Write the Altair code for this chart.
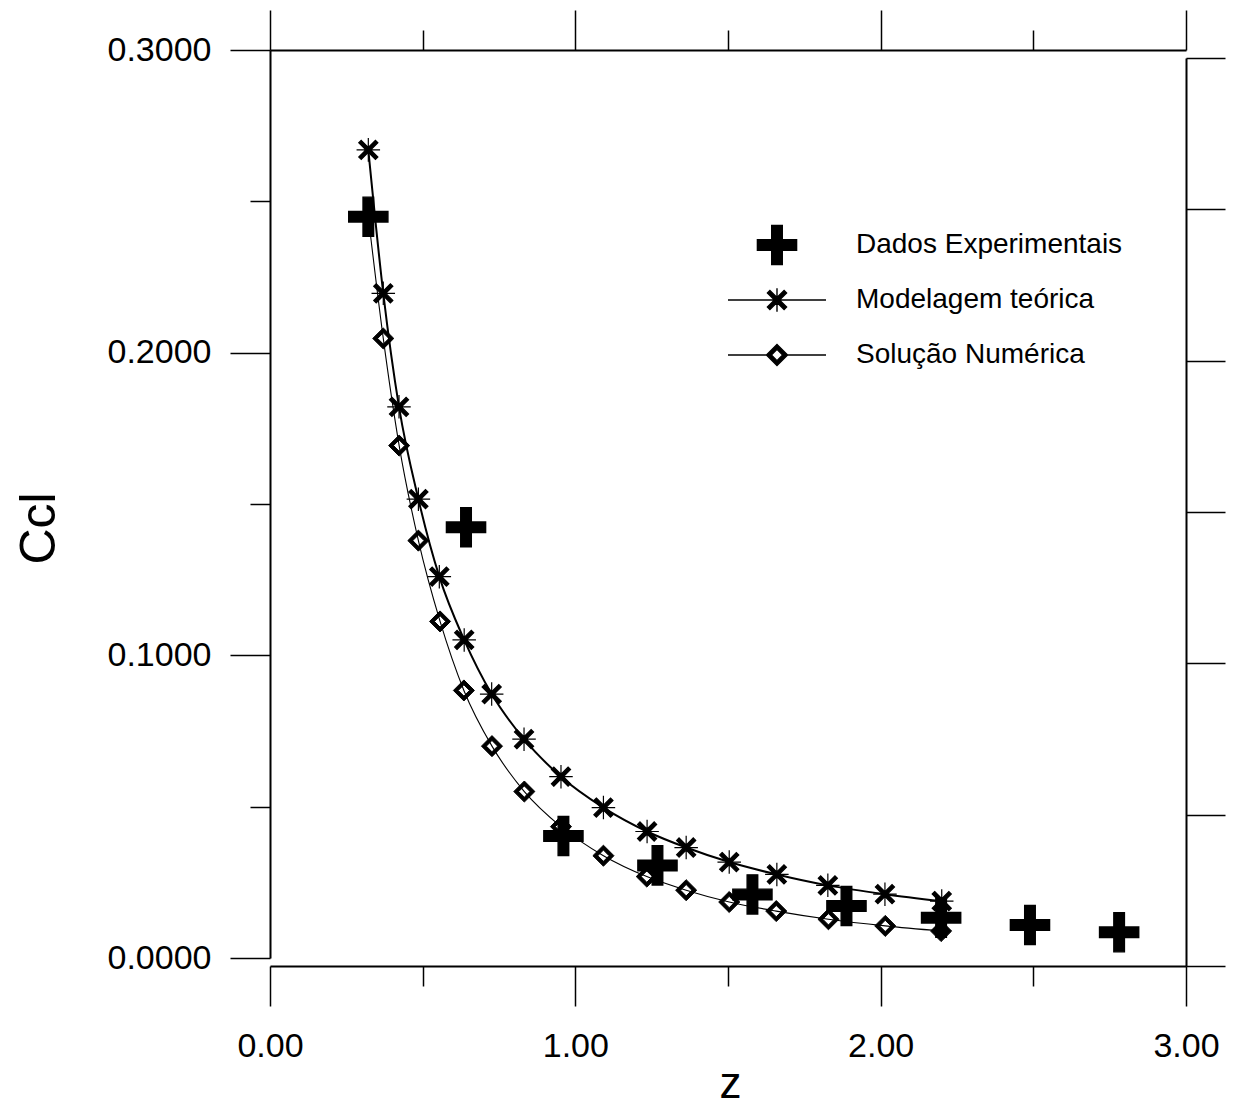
import altair as alt
import pandas as pd

# ---------------- data ----------------
series = ["Dados Experimentais", "Modelagem teórica", "Solução Numérica"]

z_exp = [0.322, 0.642, 0.961, 1.269, 1.580, 1.888, 2.198, 2.489, 2.781]
ccl_exp = [0.2449, 0.1423, 0.0403, 0.0306, 0.0210, 0.0172, 0.0133, 0.0109, 0.0085]

z_mod = [0.322, 0.371, 0.4225, 0.486, 0.5545, 0.636, 0.726, 0.832, 0.953,
         1.092, 1.235, 1.363, 1.504, 1.660, 1.827, 2.014, 2.200]
ccl_mod = [0.2670, 0.2196, 0.1821, 0.1516, 0.1260, 0.1051, 0.0872, 0.0723, 0.0599,
           0.0497, 0.0418, 0.0365, 0.0317, 0.0276, 0.0240, 0.0211, 0.0188]

z_num = [0.371, 0.423, 0.486, 0.557, 0.635, 0.727, 0.833, 0.953,
         1.092, 1.234, 1.363, 1.504, 1.658, 1.829, 2.015, 2.198]
ccl_num = [0.2047, 0.1693, 0.1379, 0.1112, 0.0884, 0.0700, 0.0550, 0.0434,
           0.0338, 0.0269, 0.0224, 0.0185, 0.0155, 0.0128, 0.0106, 0.0089]

x_major = [0, 1, 2, 3]
x_minor = [0.5, 1.5, 2.5]
y_major = [0.0, 0.1, 0.2, 0.3]
y_minor = [0.05, 0.15, 0.25]
y_right = [0.0, 0.05, 0.1, 0.15, 0.2, 0.25, 0.3]

# ---------------- tables ----------------
df_exp = pd.DataFrame({"z": z_exp, "ccl": ccl_exp, "serie": series[0]})
df_mod = pd.DataFrame({"z": z_mod, "ccl": ccl_mod})
df_num = pd.DataFrame({"z": z_num, "ccl": ccl_num})
# numeric curve starts from the first experimental point (hidden under the cross)
df_num_line = pd.DataFrame({"z": [z_exp[0]] + z_num, "ccl": [ccl_exp[0]] + ccl_num})

# ---------------- marker shapes (SVG paths) ----------------
P_CROSS = "M-0.108,-0.4H0.108V-0.108H0.4V0.108H0.108V0.4H-0.108V0.108H-0.4V-0.108H-0.108Z"
P_STAR = ("M-0.24,0H0.24M0,-0.24V0.24"
          "M-0.145,-0.195L0.195,0.145L0.145,0.195L-0.195,-0.145Z"
          "M-0.145,0.195L-0.195,0.145L0.145,-0.195L0.195,-0.145Z")
P_DIAM = "M0,-0.215L0.215,0L0,0.215L-0.215,0ZM0,-0.115L-0.115,0L0,0.115L0.115,0Z"
P_STAR_LEG = "M-1,0H1" + P_STAR
P_DIAM_LEG = "M-1,0H-0.215M0.215,0H1" + P_DIAM
SYM = 9604

F = "Liberation Sans"
XS = alt.Scale(domain=[0, 3], nice=False, zero=False)
YS = alt.Scale(domain=[0, 0.3], nice=False, zero=False)
AX = dict(domainColor="black", domainWidth=2, tickColor="black", tickWidth=1.5,
          grid=False, labelColor="black", titleColor="black",
          labelFont=F, titleFont=F, labelFlush=False, labelOverlap=False)

# ---------------- layers ----------------
line_mod = alt.Chart(df_mod).mark_line(
    color="black", strokeWidth=2, interpolate="monotone"
).encode(
    x=alt.X("z:Q", scale=XS, axis=alt.Axis(orient="bottom", values=x_minor, tickSize=20,
                                           labels=False, domain=False, title=None, offset=8, **AX)),
    y=alt.Y("ccl:Q", scale=YS, axis=alt.Axis(orient="left", values=y_minor, tickSize=20,
                                             labels=False, domain=False, title=None, **AX)),
)

line_num = alt.Chart(df_num_line).mark_line(
    color="black", strokeWidth=1.1, interpolate="monotone"
).encode(
    x=alt.X("z:Q", scale=XS, axis=alt.Axis(orient="top", values=x_major, tickSize=40,
                                           labels=False, title=None, **AX)),
    y=alt.Y("ccl:Q", scale=YS, axis=alt.Axis(orient="right", values=y_right, tickSize=39,
                                             labels=False, title=None, position=8, **AX)),
)

pts_exp = alt.Chart(df_exp).mark_point(
    filled=True, fill="black", stroke="black", strokeWidth=1.4, opacity=1, size=SYM
).encode(
    x=alt.X("z:Q", scale=XS, axis=alt.Axis(orient="bottom", values=x_major, format=".2f",
                                           tickSize=40, labelPadding=23, labelFontSize=34,
                                           title="z", titleFontSize=44, titleFontWeight="normal",
                                           titleX=460, titleY=118, titleBaseline="middle",
                                           titleAlign="center", offset=8, **AX)),
    y=alt.Y("ccl:Q", scale=YS, axis=alt.Axis(orient="left", values=y_major, format=".4f",
                                             tickSize=40, labelPadding=19, labelFontSize=34,
                                             title="Ccl", titleFontSize=50, titleFontWeight="normal",
                                             titleAngle=270, titleX=-231, titleY=478,
                                             titleBaseline="middle", titleAlign="center", **AX)),
    shape=alt.Shape("serie:N",
                    scale=alt.Scale(domain=series, range=[P_CROSS, P_STAR_LEG, P_DIAM_LEG]),
                    legend=alt.Legend(orient="none", legendX=457, legendY=173, title=None,
                                      symbolSize=SYM, symbolStrokeWidth=1.4,
                                      symbolOpacity=1, labelFont=F, labelFontSize=28,
                                      labelColor="black", labelOffset=29, labelLimit=500,
                                      clipHeight=44, rowPadding=11, padding=0)),
)

pts_mod = alt.Chart(df_mod).mark_point(
    filled=True, fill="black", stroke="black", strokeWidth=1.2, opacity=1,
    size=SYM, shape=P_STAR
).encode(
    x=alt.X("z:Q", scale=XS, axis=alt.Axis(orient="top", values=x_minor, tickSize=20,
                                           labels=False, domain=False, title=None, **AX)),
    y=alt.Y("ccl:Q", scale=YS, axis=None),
)

pts_num = alt.Chart(df_num).mark_point(
    filled=True, fill="black", stroke="black", strokeWidth=1.0, opacity=1,
    size=SYM, shape=P_DIAM
).encode(
    x=alt.X("z:Q", scale=XS, axis=None),
    y=alt.Y("ccl:Q", scale=YS, axis=None),
)

chart = alt.layer(line_mod, line_num, pts_exp, pts_mod, pts_num).resolve_axis(
    x="independent", y="independent"
).properties(
    width=916, height=908,
    autosize=alt.AutoSizeParams(type="none"),
    padding={"left": 270, "top": 50, "right": 49, "bottom": 149},
    background="white",
).configure_view(stroke=None)

chart.save("out.html", embed_options={"renderer": "svg", "actions": False})
